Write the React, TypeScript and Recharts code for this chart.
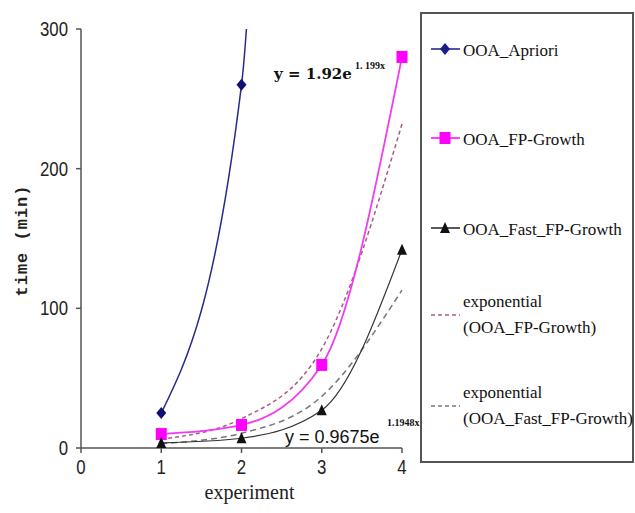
import { LineChart, Line, XAxis, YAxis, Customized } from 'recharts'

// experiment number on the x axis
const experiments = [1, 2, 3, 4]
const xTicks = [0, 1, 2, 3, 4]
const yTicks = [0, 100, 200, 300]

const apriori = [25, 260, 2700, null]
const fpGrowth = [10, 16.5, 59.5, 280]
const fastFpGrowth = [3.6, 7, 27, 142]
const fpGrowthTrend = [6.4, 21, 71, 232]
const fastFpGrowthTrend = [3.2, 10.6, 37, 113]

const data = experiments.map((x, i) => ({
  x,
  apriori: apriori[i],
  fp: fpGrowth[i],
  fast: fastFpGrowth[i],
  fpTrend: fpGrowthTrend[i],
  fastTrend: fastFpGrowthTrend[i],
}))

type MarkerKind = 'diamond' | 'square' | 'triangle'

function markerShape(kind: MarkerKind, cx: number, cy: number, fill: string, key?: string) {
  if (kind === 'diamond')
    return <polygon key={key} points={`${cx},${cy - 6} ${cx + 5},${cy} ${cx},${cy + 6} ${cx - 5},${cy}`} fill={fill} />
  if (kind === 'square')
    return <rect key={key} x={cx - 5.5} y={cy - 6} width={11} height={12} fill={fill} />
  return <polygon key={key} points={`${cx},${cy - 6} ${cx + 5},${cy + 5} ${cx - 5},${cy + 5}`} fill={fill} />
}

const makeDot = (kind: MarkerKind, fill: string) => (props: any) => {
  const { cx, cy, index } = props
  if (cx == null || cy == null || cy < 20) return <g key={`d${index}`} />
  return markerShape(kind, cx, cy, fill, `d${index}`)
}

const serif = '"Liberation Serif", "Times New Roman", serif'
const sans = '"Liberation Sans", Arial, sans-serif'

// squeezed sans to imitate the narrow tick font
const NarrowTick = ({ x, y, payload, textAnchor, verticalAnchor }: any) => (
  <g transform={`translate(${x} ${y}) scale(0.84 1)`}>
    <text x={0} y={0} dy={verticalAnchor === 'start' ? '0.71em' : '0.355em'} textAnchor={textAnchor}
      fontFamily={sans} fontSize={20} fill="#222">
      {payload.value}
    </text>
  </g>
)

const YLabel = ({ viewBox }: any) => {
  const cx = viewBox.x + 22
  const cy = viewBox.y + viewBox.height / 2 + 2
  return (
    <text x={cx} y={cy} transform={`rotate(-90 ${cx} ${cy})`} textAnchor="middle" dominantBaseline="central"
      fontFamily='"Liberation Mono", monospace' fontWeight="bold" fontSize={17} letterSpacing={1} fill="#222">
      time (min)
    </text>
  )
}

const XLabel = ({ viewBox }: any) => (
  <text x={viewBox.x + viewBox.width / 2 + 8} y={viewBox.y + 44} textAnchor="middle" dominantBaseline="central"
    fontFamily={serif} fontSize={20} fill="#222">
    experiment
  </text>
)

const Equations = () => (
  <g fill="#111">
    <text x={274} y={79} fontFamily='"DejaVu Serif", serif' fontWeight="bold" fontSize={15}>
      y = 1.92e
    </text>
    <text x={355} y={69} fontFamily={serif} fontWeight="bold" fontSize={10}>1. 199x</text>
    <text x={285} y={443} fontFamily={sans} fontSize={18}>
      y = 0.9675e
    </text>
    <text x={387} y={426} fontFamily={serif} fontWeight="bold" fontSize={10}>1.1948x</text>
  </g>
)

const legendItems = [
  { lines: ['OOA_Apriori'], color: '#1c1c8a', marker: 'diamond' as MarkerKind, dash: '', top: 49 },
  { lines: ['OOA_FP-Growth'], color: '#ff00ff', marker: 'square' as MarkerKind, dash: '', top: 138 },
  { lines: ['OOA_Fast_FP-Growth'], color: '#222', marker: 'triangle' as MarkerKind, dash: '', top: 228 },
  { lines: ['exponential', '(OOA_FP-Growth)'], color: '#a85a88', marker: null, dash: '4 3', top: 315 },
  { lines: ['exponential', '(OOA_Fast_FP-Growth)'], color: '#777', marker: null, dash: '4 3', top: 406 },
]

function ChartLegend() {
  return (
    <div style={{ position: 'absolute', left: 420, top: 12, width: 214, height: 451, border: '2px solid #555', boxSizing: 'border-box', background: '#fff' }}>
      {legendItems.map((it) => (
        <div key={it.lines.join()} style={{ position: 'absolute', left: 0, top: it.top - 12 - 2 - 30, height: 60, width: 210 }}>
          <svg width={40} height={60} style={{ position: 'absolute', left: 0, top: 0 }}>
            <line x1={9} x2={38} y1={30} y2={30} stroke={it.color} strokeWidth={1.5} strokeDasharray={it.dash || undefined} />
            {it.marker && markerShape(it.marker, 23, 30, it.color === '#222' ? '#111' : it.color)}
          </svg>
          <div style={{ position: 'absolute', left: 41, top: it.lines.length > 1 ? 30 - 26 : 30 - 11, fontFamily: serif, fontSize: 17, lineHeight: '26px', color: '#111', whiteSpace: 'nowrap' }}>
            {it.lines.map((l) => <div key={l}>{l}</div>)}
          </div>
        </div>
      ))}
    </div>
  )
}

export default function App() {
  return (
    <div style={{ position: 'absolute', left: 0, top: 0, width: 635, height: 513, background: '#fff' }}>
      <LineChart width={635} height={513} data={data} margin={{ top: 29, right: 233, bottom: 0, left: 0 }}>
        <XAxis dataKey="x" type="number" domain={[0, 4]} ticks={xTicks} height={65}
          stroke="#555" strokeWidth={1.5} tickSize={5} tickMargin={7}
          tick={<NarrowTick />} label={<XLabel />} />
        <YAxis type="number" domain={[0, 300]} ticks={yTicks} allowDataOverflow width={81}
          stroke="#555" strokeWidth={1.5} tickSize={5} tickMargin={8}
          tick={<NarrowTick />} label={<YLabel />} />
        <Line dataKey="fpTrend" type="monotone" stroke="#a85a88" strokeWidth={1.5} strokeDasharray="4 3" dot={false} isAnimationActive={false} />
        <Line dataKey="fastTrend" type="monotone" stroke="#777" strokeWidth={1.5} strokeDasharray="6 4" dot={false} isAnimationActive={false} />
        <Line dataKey="apriori" type="monotone" stroke="#2a2a8c" strokeWidth={1.5} dot={makeDot('diamond', '#101070')} isAnimationActive={false} />
        <Line dataKey="fp" type="monotone" stroke="#f03cf0" strokeWidth={1.8} dot={makeDot('square', '#ff00ff')} isAnimationActive={false} />
        <Line dataKey="fast" type="monotone" stroke="#333" strokeWidth={1.2} dot={makeDot('triangle', '#111')} isAnimationActive={false} />
        <Customized component={<Equations />} />
      </LineChart>
      <ChartLegend />
    </div>
  )
}
